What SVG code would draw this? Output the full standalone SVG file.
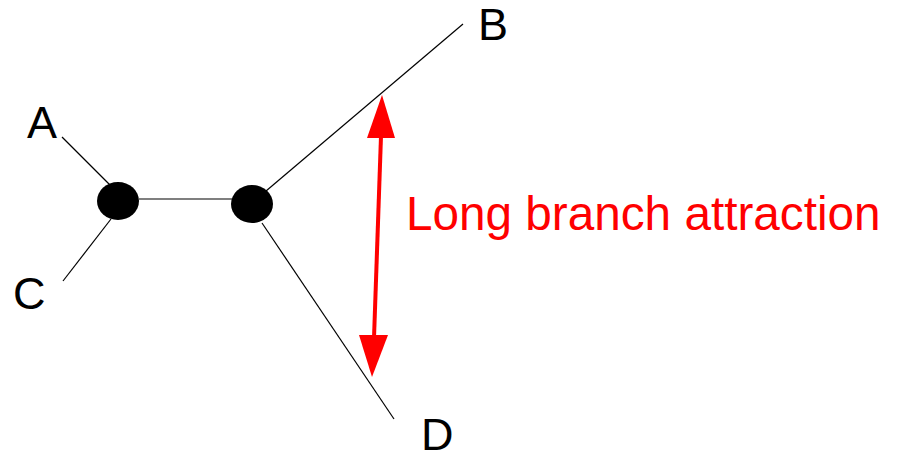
<svg xmlns="http://www.w3.org/2000/svg" width="901" height="456" viewBox="0 0 901 456">
<style>
.edge{stroke:#000;stroke-width:1.2;fill:none}
.node{fill:#000}
.lbl{font-family:"Liberation Sans",Arial,sans-serif;font-size:45px;fill:#000}
.red{font-family:"Liberation Sans",Arial,sans-serif;font-size:47.7px;fill:#ff0000}
</style>
<rect width="901" height="456" fill="#fff"/>
<g id="connectors">
<line class="edge" x1="62" y1="137" x2="110" y2="185"/>
<line class="edge" x1="63" y1="281" x2="111" y2="219"/>
<line class="edge" x1="139" y1="199" x2="232" y2="199"/>
<line class="edge" x1="266" y1="191" x2="463" y2="24"/>
<line class="edge" x1="262" y1="223" x2="394" y2="419"/>
</g>
<g id="node-left"><ellipse class="node" cx="118" cy="201" rx="21" ry="19"/></g>
<g id="node-right"><ellipse class="node" cx="252" cy="204" rx="21" ry="19"/></g>
<g id="label-A"><text class="lbl" x="27" y="138">A</text></g>
<g id="label-B"><text class="lbl" x="478" y="40">B</text></g>
<g id="label-C"><text class="lbl" x="13" y="309">C</text></g>
<g id="label-D"><text class="lbl" x="421" y="450">D</text></g>
<g id="lba-arrow">
<line x1="381" y1="136" x2="374" y2="338" stroke="#ff0000" stroke-width="4"/>
<polygon points="382,95 367,138 395,138" fill="#ff0000"/>
<polygon points="372,377 359,335 388,335" fill="#ff0000"/>
</g>
<g id="lba-label"><text class="red" x="406" y="230">Long branch attraction</text></g>
</svg>
